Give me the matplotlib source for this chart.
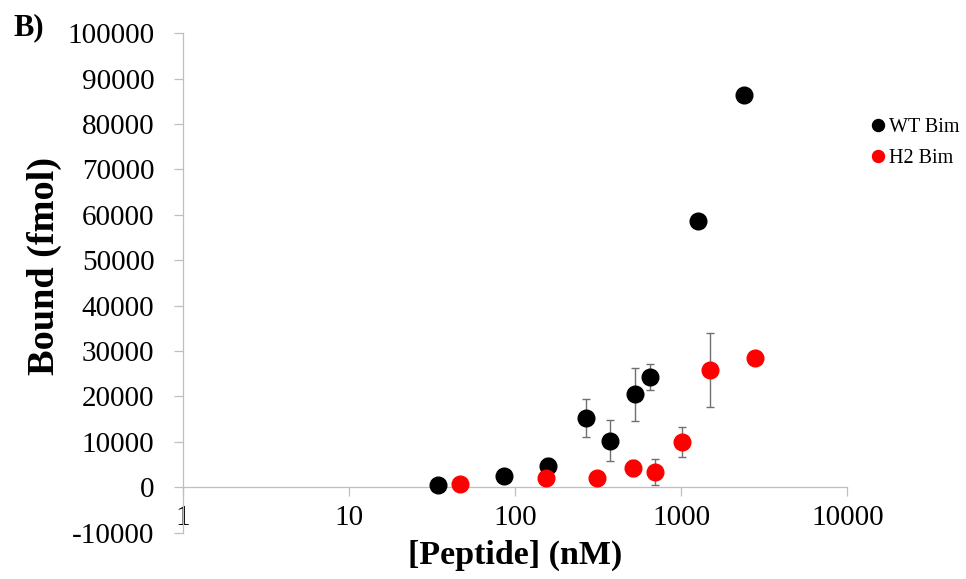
import numpy as np
import matplotlib
matplotlib.use('Agg')
import matplotlib.pyplot as plt
from matplotlib.ticker import FixedLocator, FuncFormatter, NullLocator

plt.rcParams['font.family'] = ['Liberation Serif', 'DejaVu Serif']
plt.rcParams['axes.unicode_minus'] = False

# WT Bim
wt_conc = [34.4, 86, 157, 269, 371, 525, 649, 1271, 2377]
wt_bound = [600, 2530, 4580, 15240, 10300, 20520, 24390, 58740, 86350]
wt_err = [0, 0, 1850, 4200, 4440, 5830, 2860, 0, 0]

# H2 Bim
h2_conc = [46.4, 154, 310, 513, 700, 1012, 1489, 2768]
h2_bound = [770, 1940, 2090, 4230, 3410, 9950, 25870, 28440]
h2_err = [0, 0, 0, 1820, 2830, 3300, 8100, 0]

x_ticks = [1, 10, 100, 1000, 10000]
y_ticks = list(range(-10000, 100001, 10000))

axis_col = '#bfbfbf'
err_col = '#707070'

fig = plt.figure(figsize=(9.66, 5.79), dpi=100)
ax = fig.add_axes([0.1894, 0.0800, 0.6877, 0.8625])

ax.errorbar(wt_conc, wt_bound, yerr=wt_err, fmt='none', ecolor=err_col,
            elinewidth=1, capsize=2.6, capthick=1, zorder=2)
wt, = ax.plot(wt_conc, wt_bound, 'o', color='black', markersize=12,
              label='WT Bim', zorder=3)
ax.errorbar(h2_conc, h2_bound, yerr=h2_err, fmt='none', ecolor=err_col,
            elinewidth=1, capsize=2.6, capthick=1, zorder=4)
h2, = ax.plot(h2_conc, h2_bound, 'o', color='#ff0000', markersize=12,
              label='H2 Bim', zorder=5)

ax.set_xscale('log')
ax.set_xlim(1, 10000)
ax.set_ylim(-10000, 100000)
ax.xaxis.set_major_locator(FixedLocator(x_ticks))
ax.xaxis.set_minor_locator(NullLocator())
ax.xaxis.set_major_formatter(FuncFormatter(lambda v, p: '%d' % round(v)))
ax.yaxis.set_major_locator(FixedLocator(y_ticks))
ax.yaxis.set_major_formatter(FuncFormatter(lambda v, p: '%d' % round(v)))

ax.spines['top'].set_visible(False)
ax.spines['right'].set_visible(False)
ax.spines['bottom'].set_position(('data', 0))
for s in ['left', 'bottom']:
    ax.spines[s].set_color(axis_col)
    ax.spines[s].set_linewidth(0.9)

ax.tick_params(axis='x', direction='out', length=6.5, width=0.9,
               color=axis_col, labelsize=21, pad=6)
ax.tick_params(axis='y', direction='out', length=6.5, width=0.9,
               color=axis_col, labelsize=21, pad=14)

ax.set_xlabel('[Peptide] (nM)', fontsize=24.5, fontweight='bold', va='center')
ax.set_ylabel('Bound (fmol)', fontsize=27.5, fontweight='bold', va='center')
ax.xaxis.set_label_coords(0.5, -0.045)
ax.yaxis.set_label_coords(-0.208, 0.535)

fig.text(13 / 966, 1 - 35 / 579, 'B)', fontsize=22, fontweight='bold',
         va='baseline', ha='left')

ax.legend(handles=[wt, h2], loc='center left', bbox_to_anchor=(870 / 966, 1 - 143 / 579),
          bbox_transform=fig.transFigure, frameon=False, fontsize=14.5,
          markerscale=0.72, handlelength=0.8, handletextpad=0.15,
          labelspacing=0.6, borderpad=0, borderaxespad=0)

fig.savefig('out.png', dpi=100)
